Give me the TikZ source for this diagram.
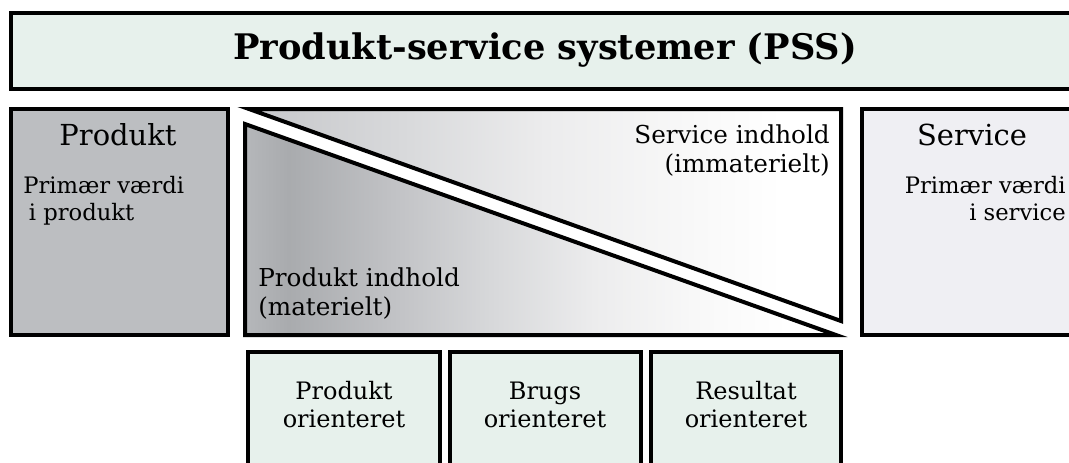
\documentclass[tikz,border=0pt]{standalone}
\usepackage{fontspec}
\setmainfont{DejaVu Serif}
\definecolor{mint}{HTML}{E7F1EC}
\definecolor{prodgray}{HTML}{BCBEC1}
\definecolor{servgray}{HTML}{EFEFF3}
\definecolor{lowA}{HTML}{B5B7BA}
\definecolor{lowB}{HTML}{A9ABAE}
\definecolor{lowC}{HTML}{C2C3C6}
\definecolor{lowD}{HTML}{D8D9DB}
\definecolor{lowE}{HTML}{ECECED}
\definecolor{lowF}{HTML}{F8F8F8}
\definecolor{upA}{HTML}{C6C7CA}
\pgfdeclarehorizontalshading{lowshade}{100bp}{color(0bp)=(lowA); color(25bp)=(lowA); color(28.7bp)=(lowB); color(37.9bp)=(lowC); color(46.2bp)=(lowD); color(54.5bp)=(lowE); color(62.9bp)=(lowF); color(71bp)=(white); color(100bp)=(white)}
\pgfdeclarehorizontalshading{upshade}{100bp}{color(0bp)=(upA); color(25bp)=(upA); color(38bp)=(lowD); color(50bp)=(lowE); color(62bp)=(lowF); color(70bp)=(white); color(100bp)=(white)}
\tikzset{
  frame/.style={draw=black, line width=3pt},
  sidelbl/.style={inner sep=0pt, font=\fontsize{17}{20.25}\selectfont},
  midlbl/.style={inner sep=0pt, font=\fontsize{18.5}{21.75}\selectfont},
  botlbl/.style={inner sep=0pt, font=\fontsize{18}{20.3}\selectfont},
  big/.style={inner sep=0pt, font=\fontsize{21.7}{26}\selectfont},
}
\begin{document}
\begin{tikzpicture}[x=0.75pt,y=-0.75pt]
\useasboundingbox (0,0) rectangle (1069,462);
\begin{scope}
\clip (0,0) rectangle (1069,462);
% title
\draw[frame, fill=mint] (11,13) rectangle (1090,89);
\node[inner sep=0pt, font=\bfseries\fontsize{26.4}{30}\selectfont] (title) at (545,50) {Produkt-service systemer (PSS)};
% produkt box
\draw[frame, fill=prodgray] (11,109) rectangle (228,335);
\node[big, anchor=base] (prod) at (118,145) {Produkt};
\node[sidelbl, anchor=base west, align=left] (prodval) at (23,220) {Primær værdi\\\hspace{0.25em}i produkt};
% middle triangles
\draw[frame, shading=upshade, line join=miter] (249,109) -- (841,109) -- (841,321) -- cycle;
\draw[frame, shading=lowshade, line join=miter] (245,124) -- (245,335) -- (836,335) -- cycle;
\node[midlbl, anchor=base east, align=right] (servind) at (830,172) {Service indhold\\(immaterielt)};
\node[midlbl, anchor=base west, align=left] (prodind) at (258,315) {Produkt indhold\\(materielt)};
% service box
\draw[frame, fill=servgray] (862,109) rectangle (1090,335);
\node[big, anchor=base] (serv) at (972,145) {Service};
\node[sidelbl, anchor=base east, align=right] (servval) at (1066,220) {Primær værdi\\i service};
% bottom boxes
\draw[frame, fill=mint] (248,352) rectangle (440,480);
\draw[frame, fill=mint] (450,352) rectangle (641,480);
\draw[frame, fill=mint] (651,352) rectangle (841,480);
\node[botlbl, anchor=base, align=center] (po) at (344,427) {Produkt\\orienteret};
\node[botlbl, anchor=base, align=center] (bo) at (545,427) {Brugs\\orienteret};
\node[botlbl, anchor=base, align=center] (ro) at (746,427) {Resultat\\orienteret};
\end{scope}
\end{tikzpicture}
\end{document}
